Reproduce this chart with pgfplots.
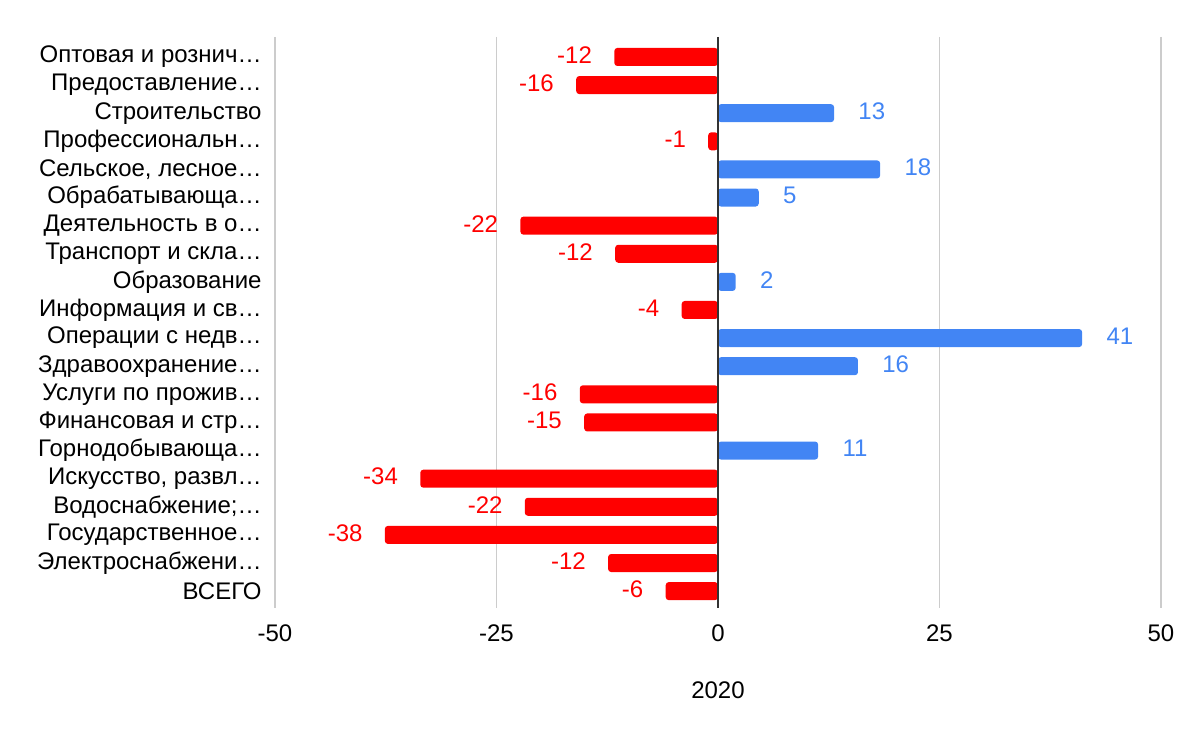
\documentclass[border=0pt]{standalone}
\usepackage{pgfplots}
\pgfplotsset{compat=1.18}
\usepackage{fontspec}
\setmainfont{Liberation Sans}
\definecolor{gblue}{HTML}{4285F4}
\definecolor{gred}{HTML}{FF0000}
\begin{document}
\begin{tikzpicture}
\begin{axis}[
  scale only axis, width=443pt, height=285.5pt,
  xmin=-50, xmax=50, ymin=-0.71, ymax=19.6, y dir=reverse,
  xtick={-50,-25,0,25,50},
  ytick={0,...,19},
  yticklabels={Оптовая и рознич…, Предоставление…, Строительство, Профессиональн…, {Сельское, лесное…}, Обрабатывающа…, Деятельность в о…, Транспорт и скла…, Образование, Информация и св…, Операции с недв…, Здравоохранение…, Услуги по прожив…, Финансовая и стр…, Горнодобывающа…, {Искусство, развл…}, Водоснабжение;…, Государственное…, Электроснабжени…, ВСЕГО},
  axis line style={draw=none},
  major tick length=0pt,
  xmajorgrids, grid style={draw=black!20, line width=0.7pt},
  /pgf/number format/assume math mode=true,
  ticklabel style={font=\fontsize{12}{14}\selectfont},
  yticklabel style={inner sep=0pt, xshift=-6.5pt},
  xticklabel style={inner sep=0pt, yshift=-8pt, font=\fontsize{12}{14}\selectfont},
  xlabel={2020},
  xlabel style={at={(axis description cs:0.5,0)}, anchor=center, yshift=-41pt, font=\fontsize{12}{14}\selectfont},
]
\addplot[xbar, bar width=9pt, bar shift=0pt, fill=gred, draw=none, rounded corners=1.5pt,
  point meta=explicit symbolic, nodes near coords,
  nodes near coords style={anchor=east, xshift=-11pt, yshift=1pt, inner sep=0pt, text=gred, font=\fontsize{12}{14}\selectfont}]
coordinates {
(-11.7,0) [-12]
(-16.0,1) [-16]
(-1.1,3) [-1]
(-22.3,6) [-22]
(-11.6,7) [-12]
(-4.1,9) [-4]
(-15.6,12) [-16]
(-15.1,13) [-15]
(-33.6,15) [-34]
(-21.8,16) [-22]
(-37.6,17) [-38]
(-12.4,18) [-12]
(-5.9,19) [-6]
};
\addplot[xbar, bar width=9pt, bar shift=0pt, fill=gblue, draw=none, rounded corners=1.5pt,
  point meta=explicit symbolic, nodes near coords,
  nodes near coords style={anchor=west, xshift=12pt, yshift=1pt, inner sep=0pt, text=gblue, font=\fontsize{12}{14}\selectfont}]
coordinates {
(13.1,2) [13]
(18.3,4) [18]
(4.6,5) [5]
(2.0,8) [2]
(41.1,10) [41]
(15.8,11) [16]
(11.3,14) [11]
};
\addplot[draw=black!80, line width=0.8pt, mark=none, forget plot] coordinates {(0,-0.71) (0,19.6)};
\end{axis}
\pgfresetboundingbox
\path[use as bounding box] (-137.5pt,-67pt) rectangle (462.5pt,304pt);
\end{tikzpicture}
\end{document}
